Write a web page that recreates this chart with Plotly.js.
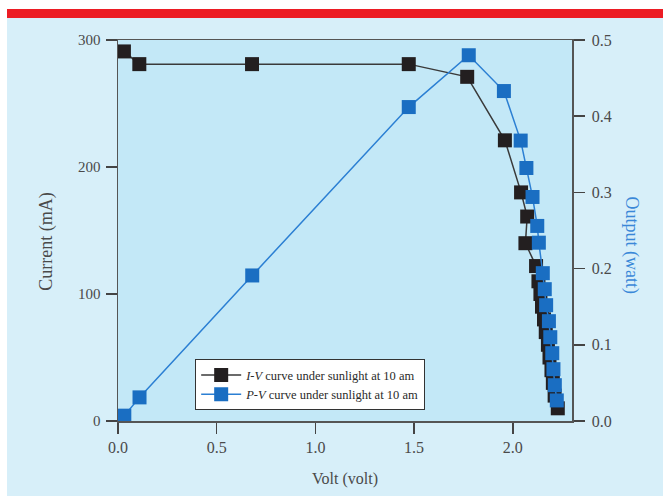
<!DOCTYPE html>
<html>
<head>
<meta charset="utf-8">
<script src="https://cdn.plot.ly/plotly-3.0.1.min.js"></script>
<style>
  html, body { margin: 0; padding: 0; background: #ffffff; }
  #wrap { position: relative; width: 663px; height: 496px; overflow: hidden; }
  #bg { position: absolute; left: 7px; top: 18px; right: 0; bottom: 0; background: #d7eff9; }
  #red { position: absolute; left: 7px; top: 9px; right: 0; height: 9px; background: #ec1c24; }
  #chart { position: absolute; left: 0; top: 0; width: 663px; height: 496px; }
</style>
</head>
<body>
<div id="wrap">
  <div id="bg"></div>
  <div id="red"></div>
  <div id="chart"></div>
</div>
<script>
// I-V curve (black): volt vs current (mA)
const voltIV = [0.030, 0.108, 0.679, 1.473, 1.769, 1.960, 2.042, 2.073, 2.064, 2.118, 2.130, 2.140, 2.148, 2.158, 2.167, 2.178, 2.186, 2.196, 2.203, 2.212, 2.228];
const currentIV = [291, 281, 281, 281, 271, 221, 180, 161, 140, 122, 110, 100, 90, 80, 70, 60, 50, 40, 30, 20, 10];

// P-V curve (blue): volt vs output (watt)
const voltPV = [0.032, 0.109, 0.680, 1.473, 1.777, 1.955, 2.040, 2.069, 2.100, 2.124, 2.132, 2.152, 2.162, 2.169, 2.183, 2.190, 2.200, 2.206, 2.213, 2.223];
const powerPV = [0.007, 0.031, 0.191, 0.412, 0.480, 0.433, 0.368, 0.332, 0.294, 0.256, 0.234, 0.194, 0.173, 0.152, 0.131, 0.110, 0.089, 0.068, 0.047, 0.027];

const seriesNames = ['<i>I-V</i> curve under sunlight at 10 am', '<i>P-V</i> curve under sunlight at 10 am'];
const axisTitles = { x: 'Volt (volt)', y: 'Current (mA)', y2: 'Output (watt)' };

const serif = 'Liberation Serif, Times New Roman, serif';
const tickGray = '#4a4a4a';

const traces = [
  {
    x: voltIV, y: currentIV, name: seriesNames[0], type: 'scatter', mode: 'lines+markers',
    line: { color: '#3a3a3a', width: 1.5 },
    marker: { symbol: 'square', size: 14, color: '#231f20' },
    xaxis: 'x', yaxis: 'y'
  },
  {
    x: voltPV, y: powerPV, name: seriesNames[1], type: 'scatter', mode: 'lines+markers',
    line: { color: '#2b7fd3', width: 1.5 },
    marker: { symbol: 'square', size: 14, color: '#1a6ec2' },
    xaxis: 'x', yaxis: 'y2'
  }
];

const layout = {
  width: 663, height: 496,
  margin: { l: 118, r: 91, t: 40, b: 75 },
  paper_bgcolor: 'rgba(0,0,0,0)',
  plot_bgcolor: '#c3e8f7',
  showlegend: true,
  legend: {
    x: 0.17, y: 0.162, xanchor: 'left', yanchor: 'top',
    bgcolor: '#ffffff', bordercolor: '#333333', borderwidth: 1,
    font: { family: serif, size: 12.5, color: '#2a2a2a' },
    itemwidth: 40,
    tracegroupgap: 0
  },
  xaxis: {
    range: [0, 2.3], dtick: 0.5, tick0: 0, tickformat: '.1f',
    showgrid: false, zeroline: false,
    showline: true, linecolor: '#555555', linewidth: 1.5, mirror: true,
    ticks: 'outside', ticklen: 11, tickwidth: 1.5, tickcolor: '#444444',
    tickfont: { family: serif, size: 16, color: tickGray },
    title: { text: axisTitles.x, font: { family: serif, size: 16, color: tickGray }, standoff: 18 }
  },
  yaxis: {
    range: [0, 300], dtick: 100, tick0: 0,
    showgrid: false, zeroline: false,
    showline: true, linecolor: '#555555', linewidth: 1.5,
    ticks: 'outside', ticklen: 11, tickwidth: 1.5, tickcolor: '#444444',
    ticklabelstandoff: 2,
    tickfont: { family: serif, size: 15, color: tickGray }
  },
  yaxis2: {
    overlaying: 'y', side: 'right',
    range: [0, 0.5], dtick: 0.1, tick0: 0, tickformat: '.1f',
    showgrid: false, zeroline: false,
    showline: true, linecolor: '#555555', linewidth: 1.5,
    ticks: 'outside', ticklen: 11, tickwidth: 1.5, tickcolor: '#444444',
    ticklabelstandoff: 4,
    tickfont: { family: serif, size: 16, color: tickGray }
  },
  annotations: [
    {
      text: axisTitles.y, xref: 'paper', yref: 'paper', x: -0.157, y: 0.47,
      xanchor: 'center', yanchor: 'middle', textangle: -90, showarrow: false,
      font: { family: serif, size: 18, color: tickGray }
    },
    {
      text: axisTitles.y2, xref: 'paper', yref: 'paper', x: 1.13, y: 0.463,
      xanchor: 'center', yanchor: 'middle', textangle: 90, showarrow: false,
      font: { family: serif, size: 18, color: '#3a88d8' }
    }
  ]
};

Plotly.newPlot('chart', traces, layout, { displayModeBar: false, staticPlot: true });
</script>
</body>
</html>
